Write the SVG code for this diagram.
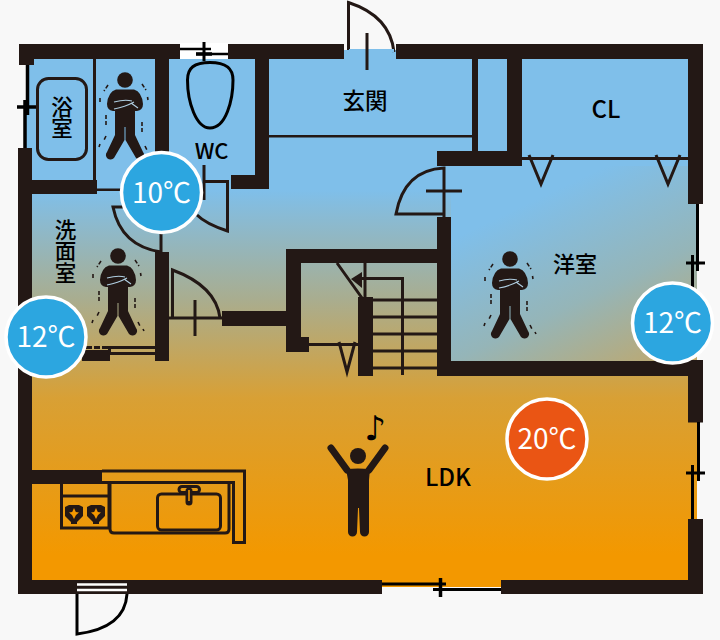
<svg xmlns="http://www.w3.org/2000/svg" xmlns:xlink="http://www.w3.org/1999/xlink" width="720" height="640" viewBox="0 0 720 640">
<style>
.w{fill:#231815}
.l{fill:none;stroke:#231815;stroke-width:3;stroke-linejoin:miter}
.k{fill:none;stroke:#000;stroke-width:3}
.t{font-family:"Noto Sans CJK JP","Noto Sans",sans-serif;font-weight:500;fill:#000;text-anchor:middle}
.c{font-family:"Noto Sans CJK JP","Noto Sans",sans-serif;font-size:28px;fill:#fff;text-anchor:middle}
.ci{stroke:#fff;stroke-width:3.5}
</style>
<defs>
<linearGradient id="g" gradientUnits="userSpaceOnUse" x1="0" y1="190" x2="0" y2="555">
<stop offset="0" stop-color="#7fbfea"/><stop offset=".3" stop-color="#a9ad8f"/><stop offset=".57" stop-color="#d8a035"/><stop offset="1" stop-color="#f39800"/>
</linearGradient>
<linearGradient id="g2" gradientUnits="userSpaceOnUse" x1="545" y1="195" x2="640" y2="395">
<stop offset="0" stop-color="#7fbfea"/><stop offset=".5" stop-color="#95b5b8"/><stop offset="1" stop-color="#c4a663"/>
</linearGradient>
<g id="cold">
<circle cx="0" cy="0" r="7.800" fill="#231815"/>
<path class="w" d="M-9,9.500 Q-17,12 -18,24 Q-18,30 -12,31 L-10,31 L-10,55 L-18,72 A4.500,4.500 0 0 0 -11,78 L-0.500,60 V47 H0.500 V60 L11,78 A4.500,4.500 0 0 0 18,72 L10,55 L10,31 L12,31 Q18,30 18,24 Q17,12 9,9.500 Z"/>
<path d="M-11,22 Q0,19 7,21 M-11,29 Q0,27 9,22 M13,28 L6,23" fill="none" stroke="#b0cfe2" stroke-width="1.100"/>
<path d="M-17,5 L-21,11 M-25,18 L-25,22 M-19,35 L-19,46 M-19,56 L-21,60 M-25,64 L-26,67 M17,4 L21,10 M22.500,17 L23,20 M17,42 L17,53 M20,66 L22,70 M25,73 L26,75" fill="none" stroke="#231815" stroke-width="1.600" stroke-dasharray="4 2"/>
</g>
<g id="burner">
<path class="w" d="M-9,-7 L-5,-9 L5,-9 L9,-7 L9,2 L3,8 L3,10 L-3,10 L-3,8 L-9,2 Z"/>
<path d="M0,-6 L1.800,-2 L5,-1.500 L2,1 L0,5 L-2,1 L-5,-1.500 L-1.800,-2 Z" fill="#f39800"/>
</g>
</defs>
<rect width="720" height="640" fill="#f8f8f8"/>
<g id="floor">
<rect x="26" y="50" width="671" height="537" fill="url(#g)"/>
<rect x="451" y="166" width="246" height="195" fill="url(#g2)"/>
<rect x="180" y="43" width="48" height="16" fill="#fff"/>
</g>
<g id="walls">
<rect class="w" x="19" y="44" width="161" height="15"/>
<rect class="w" x="228" y="44" width="116" height="15"/>
<rect class="w" x="396" y="44" width="307" height="15"/>
<rect class="w" x="19" y="44" width="15" height="21"/>
<rect class="w" x="18" y="148" width="14" height="446"/>
<rect class="w" x="18" y="580" width="364" height="14"/>
<rect class="w" x="501" y="580" width="202" height="14"/>
<rect class="w" x="688" y="44" width="15" height="160"/>
<rect class="w" x="688" y="360" width="15" height="62.500"/>
<rect class="w" x="688" y="519" width="15" height="75"/>
<rect class="w" x="437" y="361" width="266" height="15"/>
<rect class="w" x="437" y="217" width="14" height="159"/>
<rect class="w" x="437" y="151" width="85" height="15"/>
<rect class="w" x="507" y="44" width="15" height="122"/>
<rect class="w" x="472" y="59" width="6" height="92"/>
<rect class="w" x="268" y="135" width="204" height="2.500"/>
<rect class="w" x="255" y="44" width="14" height="145"/>
<rect class="w" x="231" y="175" width="38" height="14"/>
<rect class="w" x="155" y="44" width="14" height="120"/>
<rect class="w" x="155" y="252" width="14" height="109"/>
<rect class="w" x="93" y="59" width="3" height="122"/>
<rect class="w" x="32" y="180" width="65" height="14"/>
<rect class="w" x="97" y="188.500" width="25" height="2.500"/>
<rect class="w" x="82" y="350" width="28" height="11"/>
<rect class="w" x="108" y="347" width="3" height="5"/>
<rect class="w" x="107" y="346" width="48" height="3"/>
<rect class="w" x="110" y="352" width="45" height="3"/>
<path d="M86,347.500 H107" stroke="#231815" stroke-width="3" stroke-dasharray="6 2"/>
<rect class="w" x="286" y="249" width="151" height="14"/>
<rect class="w" x="286" y="249" width="15" height="103"/>
<rect class="w" x="286" y="337" width="23" height="15"/>
<rect class="w" x="222" y="311" width="64" height="15"/>
<rect class="w" x="32" y="470" width="70" height="14"/>
</g>
<g id="doors">
<path class="l" d="M348.500,50 V2.500 Q390,16 394,52"/>
<path d="M349,50.500 H394" stroke="#7fbfea" stroke-width="3"/>
<path class="w" d="M365.500,33 h3 v37 h-3 z"/>
<path class="l" d="M444,217 V168 Q404,170 396,214 H444"/>
<path class="w" d="M426,189.500 h36 v3 h-36 z"/>
<path class="l" d="M172.500,318 V270 Q216,286 220,318"/>
<path class="l" d="M169,318 H222"/>
<path class="w" d="M193.500,300 h3 v36 h-3 z"/>
<path class="l" d="M161,252 V232 M161,252 Q121,246 113,207 L125,207"/>
<path class="l" d="M204,165 V200 M204,181.500 H227.500 V231 Q206,224 197,215"/>
<path class="l" d="M309,344.500 H358"/>
<path class="l" d="M339,342 L347,372 L355,342"/>
<path class="l" d="M522,158.500 H688" stroke-width="2.500"/>
<path class="l" d="M529,155 L541,184 L553,155 M656,155 L668,184 L680,155"/>
<path class="k" d="M77,594 V634 Q125,628 127,594"/>
</g>
<g id="windows">
<path d="M180,49 H211 M196,54 H228" stroke="#000" stroke-width="2.500" fill="none"/>
<path d="M204,42 V61" stroke="#000" stroke-width="3"/>
<path d="M196,54 H212" stroke="#000" stroke-width="3.500"/>
<path d="M27.500,65 V115 M25,100 V148" stroke="#000" stroke-width="3.500" fill="none"/>
<path d="M17,107 H36" stroke="#000" stroke-width="3.500"/>
<path d="M697.500,204 V271 M692.500,255 V300" stroke="#000" stroke-width="3" fill="none"/>
<path d="M686,263 H705" stroke="#000" stroke-width="3"/>
<path d="M698.500,422 V481 M692.500,465 V519" stroke="#000" stroke-width="3" fill="none"/>
<path d="M686,473 H705" stroke="#000" stroke-width="3"/>
<path d="M382,584 H446 M433,589.500 H501" stroke="#000" stroke-width="3" fill="none"/>
<path d="M440.500,578 V597" stroke="#000" stroke-width="3.500"/>
<path d="M77,584.500 H127 M77,590 H127" stroke="#fff" stroke-width="2.400" fill="none"/>
</g>
<g id="stairs" fill="none" stroke="#231815" stroke-width="3">
<rect class="w" x="358" y="297" width="15" height="79" stroke="none"/>
<path d="M373,300 H437 M373,317 H437 M373,334 H437 M373,351 H437 M373,368 H437"/>
<path d="M402.500,375 V278.500 H360"/>
<path d="M365,263 V297 M337,263 L362,298"/>
<path class="w" d="M351,279 L362,272 V288 Z" stroke="none"/>
</g>
<g id="fixtures">
<rect class="l" x="37.500" y="78.500" width="49" height="81" rx="11" stroke-width="2.800"/>
<path class="k" d="M210,62.500 C226,62.500 233,68 233,80 C233,100 226,128 210,128 C196,128 187.500,102 187.500,80 C187.500,68 194,62.500 210,62.500 Z"/>
<path class="l" d="M102,471 H244.500 V542.500 H233.500 V482.500 H102 M61.500,484 V528 H109 V484 M61.500,496 H109"/>
<path class="l" d="M110,484 V529 Q110,533 114,533 H225 Q229,533 229,529 V484"/>
<rect class="l" x="157.500" y="494" width="63" height="36" rx="4"/>
<rect class="l" x="179" y="486.500" width="20.500" height="6" rx="3"/>
<path d="M189,491 V502" stroke="#231815" stroke-width="7" stroke-linecap="round"/>
<path d="M189,490 V501" stroke="#f39800" stroke-width="1.500"/>
<use href="#burner" xlink:href="#burner" x="74" y="514"/>
<use href="#burner" xlink:href="#burner" x="96" y="514"/>
</g>
<g id="person-bath"><use href="#cold" xlink:href="#cold" x="125" y="80"/></g>
<g id="person-wash"><use href="#cold" xlink:href="#cold" x="118" y="256"/></g>
<g id="person-bedroom"><use href="#cold" xlink:href="#cold" x="510" y="259"/></g>
<g id="person-ldk">
<circle cx="358" cy="456" r="8" fill="#231815"/>
<path d="M331,448 L347,470 M385,448 L369,470" stroke="#231815" stroke-width="7" stroke-linecap="round"/>
<path class="w" d="M346,469 Q358,468 370,469 L369,480 V532 A4,4 0 0 1 360,532 L359,508 H358 L357,532 A4,4 0 0 1 348,532 V480 Z"/>
<text x="375" y="440" font-family="'DejaVu Sans',sans-serif" font-size="34" text-anchor="middle" fill="#000">♪</text>
</g>
<g id="labels">
<text class="t" x="62" y="96" font-size="21.500" style="writing-mode:vertical-rl;text-anchor:start">浴室</text>
<text class="t" x="211.500" y="159" font-size="22">WC</text>
<text class="t" x="365" y="109" font-size="22.500">玄関</text>
<text class="t" x="606" y="118" font-size="24">CL</text>
<text class="t" x="575" y="272" font-size="22">洋室</text>
<text class="t" x="65.500" y="219" font-size="21.500" style="writing-mode:vertical-rl;text-anchor:start">洗面室</text>
<text class="t" x="448" y="486" font-size="24">LDK</text>
</g>
<g id="temp-10"><circle class="ci" cx="161.500" cy="192.500" r="40" fill="#2ca6e0"/><text class="c" x="161.500" y="202.500">10℃</text></g>
<g id="temp-12-left"><circle class="ci" cx="46" cy="337" r="40" fill="#2ca6e0"/><text class="c" x="46" y="347">12℃</text></g>
<g id="temp-12-right"><circle class="ci" cx="672.500" cy="323" r="40" fill="#2ca6e0"/><text class="c" x="672.500" y="333">12℃</text></g>
<g id="temp-20"><circle class="ci" cx="547" cy="439" r="40" fill="#ea5514"/><text class="c" x="547" y="449">20℃</text></g>
</svg>
